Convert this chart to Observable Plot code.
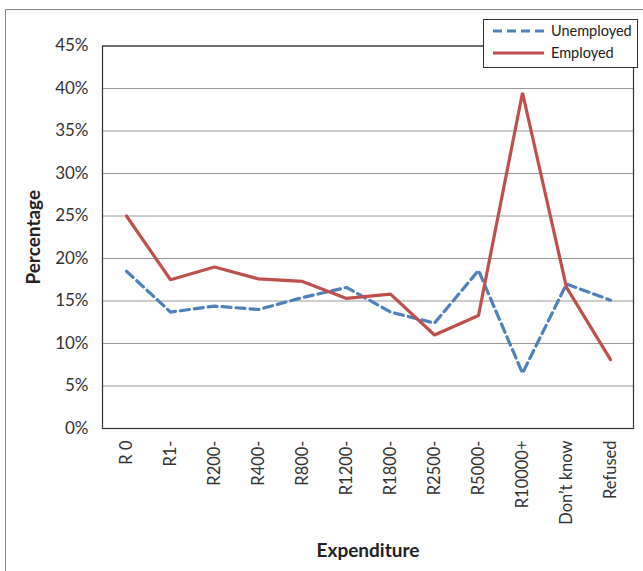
<!DOCTYPE html>
<html>
<head>
<meta charset="utf-8">
<script src="https://cdn.jsdelivr.net/npm/d3@7"></script>
<script src="https://cdn.jsdelivr.net/npm/@observablehq/plot@0.6"></script>
<style>
  html, body { margin: 0; padding: 0; background: #fff; }
  #wrap { position: relative; width: 643px; height: 571px; overflow: hidden; font-family: Lato, "Open Sans", sans-serif; }
  #border { position: absolute; left: 5px; top: 9px; width: 700px; height: 700px; border-left: 1.5px solid #8a8a8a; border-top: 1.5px solid #8a8a8a; }
  #legend { position: absolute; left: 483px; top: 19px; width: 155px; height: 49px; background: #fff; border: 1px solid #333; box-sizing: border-box; }
  #legend svg { display: block; }
  #chart { position: absolute; left: 0; top: 0; }
</style>
</head>
<body>
<div id="wrap">
  <div id="border"></div>
  <div id="chart"></div>
  <div id="legend"></div>
</div>
<script>
const categories = ["R 0", "R1-", "R200-", "R400-", "R800-", "R1200-", "R1800-", "R2500-", "R5000-", "R10000+", "Don’t know", "Refused"];
const unemployed = [18.5, 13.7, 14.4, 14.0, 15.4, 16.6, 13.7, 12.4, 18.6, 6.5, 17.0, 15.1];
const employed = [25.0, 17.5, 19.0, 17.6, 17.3, 15.3, 15.8, 11.0, 13.3, 39.5, 16.6, 8.1];
const yTicks = [0, 5, 10, 15, 20, 25, 30, 35, 40, 45];
const seriesNames = ["Unemployed", "Employed"];
const seriesColors = ["#4F81BD", "#C0504D"];

const rows = [];
categories.forEach((c, i) => {
  rows.push({cat: c, value: unemployed[i], series: "Unemployed"});
  rows.push({cat: c, value: employed[i], series: "Employed"});
});

const chart = Plot.plot({
  width: 643,
  height: 571,
  marginLeft: 102,
  marginRight: 10,
  marginTop: 45.5,
  marginBottom: 143,
  style: {fontFamily: "Lato, 'Open Sans', sans-serif", fontSize: "16px", color: "#333", background: "transparent", overflow: "visible"},
  x: {type: "point", domain: categories, padding: 0.5, label: null},
  y: {domain: [0, 45], label: null},
  marks: [
    Plot.gridY(yTicks, {stroke: "#9a9a9a", strokeOpacity: 1, strokeWidth: 1}),
    Plot.frame({stroke: "#333", strokeWidth: 1.2}),
    Plot.axisY(yTicks, {tickSize: 0, tickPadding: 14, tickFormat: d => d + "%", fontSize: 17, fill: "#333", label: null}),
    Plot.axisX({tickRotate: -90, tickSize: 0, tickPadding: 12, fontSize: 16.5, fill: "#333", label: null}),
    Plot.line(rows.filter(d => d.series === "Unemployed"), {x: "cat", y: "value", stroke: seriesColors[0], strokeWidth: 3.2, strokeDasharray: "9,5", strokeLinejoin: "miter"}),
    Plot.line(rows.filter(d => d.series === "Employed"), {x: "cat", y: "value", stroke: seriesColors[1], strokeWidth: 3.2, strokeLinejoin: "miter"}),
    Plot.text(["Percentage"], {frameAnchor: "left", textAnchor: "middle", dx: -69, rotate: -90, fontWeight: "bold", fontSize: 19, fill: "#222"}),
    Plot.text(["Expenditure"], {frameAnchor: "bottom", dy: 128, fontWeight: "bold", fontSize: 19, fill: "#222"})
  ]
});
document.getElementById("chart").appendChild(chart);

// legend
const lg = d3.select("#legend").append("svg").attr("width", 153).attr("height", 47);
seriesNames.forEach((name, i) => {
  const y = 11 + i * 22;
  lg.append("line").attr("x1", 9).attr("x2", 60).attr("y1", y).attr("y2", y)
    .attr("stroke", seriesColors[i]).attr("stroke-width", 3)
    .attr("stroke-dasharray", i === 0 ? "9,5" : null);
  lg.append("text").attr("x", 67).attr("y", y + 5).text(name)
    .attr("font-family", "Lato, 'Open Sans', sans-serif").attr("font-size", 14.5).attr("fill", "#222");
});
</script>
</body>
</html>
